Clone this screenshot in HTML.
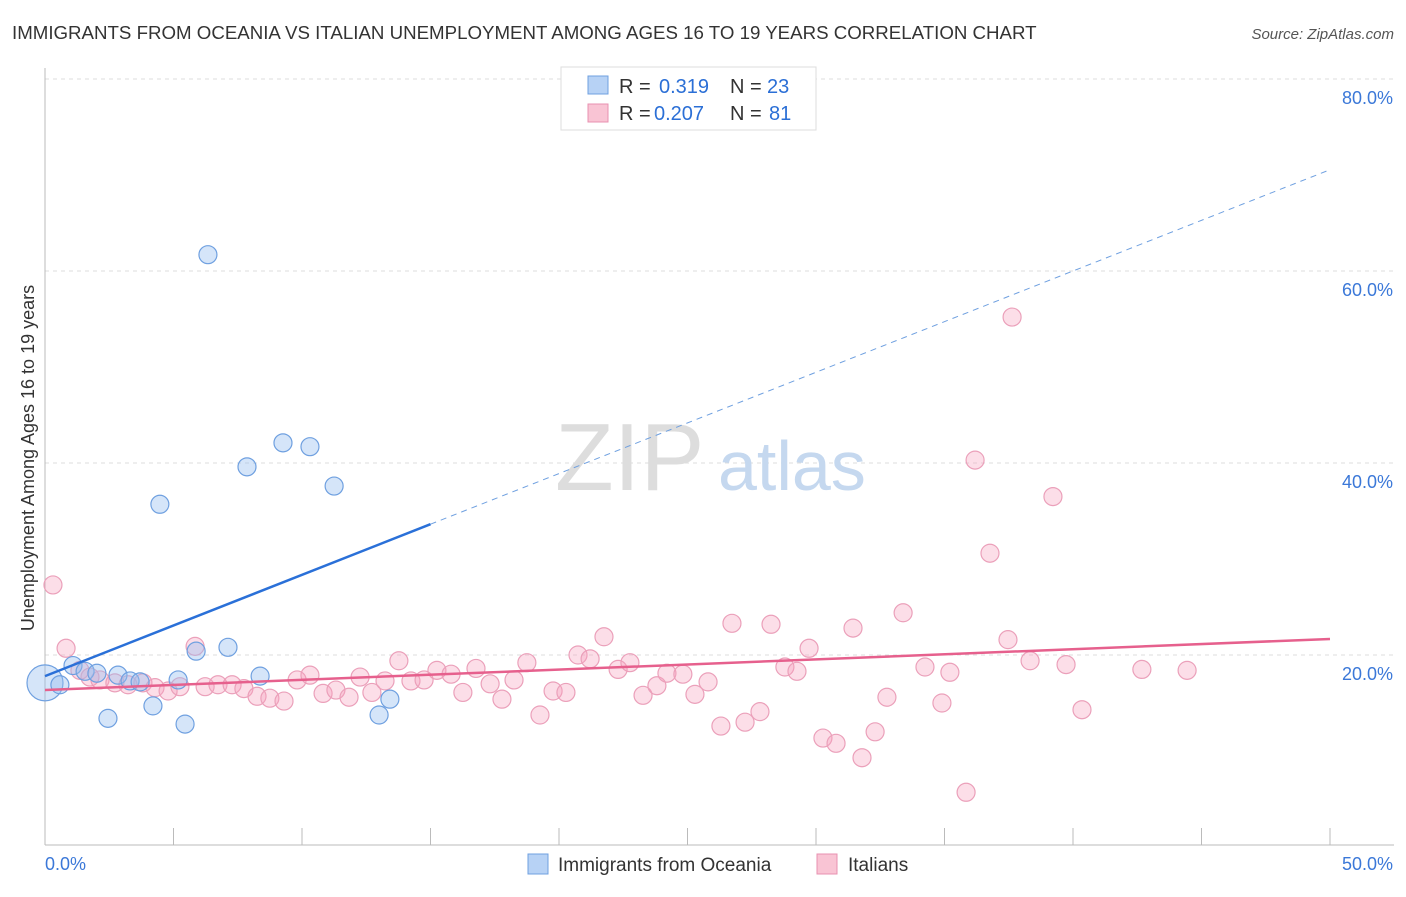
<!DOCTYPE html>
<html><head><meta charset="utf-8"><style>
body{margin:0;background:#fff;font-family:"Liberation Sans",sans-serif;}
svg text{font-family:"Liberation Sans",sans-serif;}
</style></head><body>
<svg width="1406" height="892" xmlns="http://www.w3.org/2000/svg" id="chart">
<text x="12" y="39" font-size="18.7" fill="#333">IMMIGRANTS FROM OCEANIA VS ITALIAN UNEMPLOYMENT AMONG AGES 16 TO 19 YEARS CORRELATION CHART</text>
<text x="1394" y="39" font-size="15" fill="#555" font-style="italic" text-anchor="end">Source: ZipAtlas.com</text>
<text x="0" y="0" transform="translate(34,458) rotate(-90)" font-size="18" fill="#333" text-anchor="middle">Unemployment Among Ages 16 to 19 years</text>
<g id="grid"></g>
<text x="555" y="490" font-size="96" fill="#ddd" font-family="Liberation Serif">ZIP</text>
<text x="718" y="490" font-size="70" fill="#c5d8ef">atlas</text>
<g id="marks"></g>
<g>
<rect x="561" y="67" width="255" height="63" fill="#fff" stroke="#ddd"/>
<rect x="588" y="76" width="20" height="18" fill="#b7d2f5" stroke="#6fa0e0"/>
<text x="619" y="93" font-size="20" fill="#333">R = </text><text x="659" y="93" font-size="20" fill="#2b6fd6">0.319</text>
<text x="730" y="93" font-size="20" fill="#333">N = </text><text x="767" y="93" font-size="20" fill="#2b6fd6">23</text>
<rect x="588" y="104" width="20" height="18" fill="#f9c4d4" stroke="#e891b0"/>
<text x="619" y="120" font-size="20" fill="#333">R = </text><text x="654" y="120" font-size="20" fill="#2b6fd6">0.207</text>
<text x="730" y="120" font-size="20" fill="#333">N = </text><text x="769" y="120" font-size="20" fill="#2b6fd6">81</text>
</g>
<g>
<rect x="528" y="854" width="20" height="20" fill="#b7d2f5" stroke="#6fa0e0"/>
<text x="558" y="871" font-size="19" fill="#333">Immigrants from Oceania</text>
<rect x="817" y="854" width="20" height="20" fill="#f9c4d4" stroke="#e891b0"/>
<text x="848" y="871" font-size="19" fill="#333">Italians</text>
</g>
</svg>
<script>
const blueX=[0,0.58,1.09,1.56,2.02,2.84,3.31,3.70,2.45,4.20,4.47,5.18,5.45,5.88,6.34,7.12,7.86,8.37,9.26,10.31,11.25,13.0,13.42];
const blueY=[17.1,16.9,18.9,18.3,18.1,17.9,17.3,17.2,13.4,14.7,35.7,17.4,12.8,20.4,61.7,20.8,39.6,17.8,42.1,41.7,37.6,13.75,15.4];
const pinkX=[0.31,0.82,1.36,1.75,2.14,2.72,3.23,3.81,4.28,4.79,5.25,5.84,6.23,6.73,7.28,7.74,8.25,8.75,9.30,9.81,10.31,10.82,11.32,11.83,12.26,12.72,13.23,13.77,14.24,14.75,15.25,15.80,16.26,16.77,17.32,17.78,18.25,18.75,19.26,19.77,20.27,20.74,21.21,21.75,22.30,22.76,23.27,23.81,24.20,24.82,25.29,25.80,26.30,26.73,27.24,27.82,28.25,28.79,29.26,29.73,30.27,30.78,31.44,31.79,32.30,32.76,33.39,34.24,34.90,35.21,35.84,36.19,36.77,37.47,37.63,38.33,39.22,39.73,40.35,42.68,44.44];
const pinkY=[27.3,20.7,18.4,17.7,17.4,17.1,16.9,17.1,16.6,16.25,16.7,20.9,16.7,16.9,16.9,16.5,15.7,15.5,15.2,17.4,17.9,16.0,16.35,15.6,17.7,16.1,17.3,19.4,17.3,17.4,18.4,18.0,16.1,18.6,17.0,15.4,17.4,19.2,13.75,16.25,16.1,20.0,19.6,21.9,18.5,19.2,15.8,16.8,18.1,18.0,15.9,17.2,12.6,23.3,13.0,14.1,23.2,18.75,18.3,20.7,11.35,10.8,22.8,9.3,12.0,15.6,24.4,18.75,15.0,18.2,5.7,40.3,30.6,21.6,55.2,19.4,36.5,19.0,14.3,18.5,18.4];
const blueFit=[17.8,1.055];
const pinkFit=[16.35,0.1064];
const yTicks=[20,40,60,80];
const xTickLabels=["0.0%","50.0%"];
const NS="http://www.w3.org/2000/svg";
const sx=v=>45+v*25.7, sy=v=>847-v*9.6;
function mk(tag,attrs,parent){const e=document.createElementNS(NS,tag);for(const k in attrs)e.setAttribute(k,attrs[k]);parent.appendChild(e);return e;}
const grid=document.getElementById('grid'), marks=document.getElementById('marks');
yTicks.forEach(t=>{
 const l=mk('line',{x1:45,x2:1394,y1:sy(t),y2:sy(t),stroke:'#ddd','stroke-dasharray':'4,4'},grid);
 
 
 const tx=mk('text',{x:1393,y:sy(t)+25,'font-size':18,fill:'#3b78d8','text-anchor':'end'},grid);
 tx.textContent=t.toFixed(1)+'%';
 
 
});
const ax=mk('line',{x1:45,x2:1394,y1:845,y2:845,stroke:'#bbb'},grid);


const ay=mk('line',{x1:45,x2:45,y1:68,y2:845,stroke:'#bbb'},grid);


for(let i=0;i<=10;i++){const t=mk('line',{x1:sx(i*5),x2:sx(i*5),y1:828,y2:845,stroke:'#bbb'},grid);
 
 }
[[xTickLabels[0],45,'start'],[xTickLabels[1],1393,'end']].forEach(([s,x,a])=>{const t=mk('text',{x:x,y:870,'font-size':18,fill:'#3b78d8','text-anchor':a},grid);t.textContent=s;
 
 });
pinkX.forEach((x,i)=>{const c=mk('circle',{cx:sx(x),cy:sy(pinkY[i]),r:9,fill:'rgba(245,160,190,0.35)',stroke:'#eba0ba','stroke-width':1.2},marks);
 
 });
blueX.forEach((x,i)=>{const c=mk('circle',{cx:sx(x),cy:sy(blueY[i]),r:i===0?18:9,fill:'rgba(150,190,240,0.4)',stroke:'#6fa0e0','stroke-width':1.2},marks);
 
 });
const bl=mk('line',{x1:sx(0),y1:sy(blueFit[0]),x2:sx(15),y2:sy(blueFit[0]+15*blueFit[1]),stroke:'#2a70d8','stroke-width':2.5},marks);


const bd=mk('line',{x1:sx(15),y1:sy(blueFit[0]+15*blueFit[1]),x2:sx(50),y2:sy(blueFit[0]+50*blueFit[1]),stroke:'#6fa0e0','stroke-width':1,'stroke-dasharray':'6,5'},marks);


const pl=mk('line',{x1:sx(0),y1:sy(pinkFit[0]),x2:sx(50),y2:sy(pinkFit[0]+50*pinkFit[1]),stroke:'#e6608d','stroke-width':2.5},marks);


</script>
</body></html>
